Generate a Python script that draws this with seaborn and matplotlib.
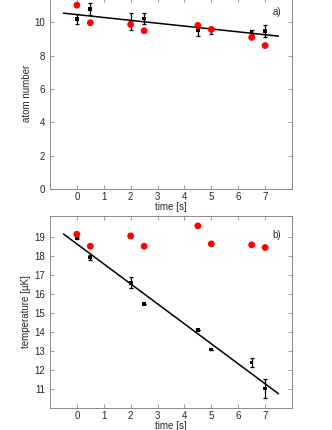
import numpy as np
import pandas as pd
import matplotlib
matplotlib.use("Agg")
import matplotlib.pyplot as plt
import seaborn as sns

time = [0, 0.5, 2, 2.5, 4.5, 5, 6.5, 7]

atoms_meas = [10.2, 10.8, 10.04, 10.24, 9.54, 9.53, 9.42, 9.48]
atoms_err = [0.28, 0.34, 0.5, 0.33, 0.33, 0.2, 0.13, 0.35]
atoms_sim = [11.04, 9.98, 9.88, 9.5, 9.82, 9.58, 9.1, 8.61]

temp_meas = [18.95, 17.91, 16.58, 15.47, 14.09, 13.07, 12.39, 11.02]
temp_err = [0.07, 0.13, 0.29, 0.0, 0.0, 0.0, 0.22, 0.51]
temp_sim = [19.14, 18.51, 19.05, 18.51, 19.58, 18.63, 18.58, 18.44]

# linear fits: (intercept, slope)
atoms_fit = (10.47, -0.1725)
temp_fit = (18.63, -1.051)
fit_t = [-0.5, 7.5]

sns.set_style("ticks")
plt.rcParams["font.family"] = ["Liberation Sans", "DejaVu Sans"]
plt.rcParams["font.size"] = 7

fig = plt.figure(figsize=(3.32, 4.30), dpi=100)
ax1 = fig.add_axes([0.1506, 0.5605, 0.7289, 0.4395 + 0.004])
ax2 = fig.add_axes([0.1506, 0.0512, 0.7289, 0.4465])


def panel(ax, meas, err, sim, fit, label):
    df = pd.DataFrame({"t": time, "meas": meas, "sim": sim})
    fit_df = pd.DataFrame({"t": fit_t, "y": [fit[0] + fit[1] * t for t in fit_t]})
    sns.lineplot(data=fit_df, x="t", y="y", color="black", lw=1.1, ax=ax, zorder=2)
    ax.errorbar(df["t"], df["meas"], yerr=err, fmt="none", ecolor="black",
                elinewidth=0.9, capsize=1.6, capthick=0.9, zorder=3)
    sns.scatterplot(data=df, x="t", y="meas", marker="s", color="black",
                    s=7, edgecolor="none", ax=ax, zorder=4)
    sns.scatterplot(data=df, x="t", y="sim", marker="o", color="#ff0000",
                    s=24, edgecolor="none", ax=ax, zorder=5)
    ax.set_xlim(-1, 8)
    ax.set_xticks(range(0, 8))
    ax.tick_params(direction="in", length=3, width=0.5, color="#777777",
                   top=True, right=True, labelsize=7)
    ax.tick_params(axis="x", pad=2)
    ax.tick_params(axis="y", pad=3.5)
    for s in ax.spines.values():
        s.set_color("#777777")
        s.set_linewidth(0.6)
    ax.set_xlabel("time [s]", fontsize=7, labelpad=0)
    ax.text(0.955, 0.93 if label == "a)" else 0.9, label, transform=ax.transAxes,
            ha="right", va="center", fontsize=7)


panel(ax1, atoms_meas, atoms_err, atoms_sim, atoms_fit, "a)")
ax1.set_ylim(0, 11.45)
ax1.set_yticks(range(0, 12, 2))
ax1.set_ylabel("atom number", fontsize=7, labelpad=2)

panel(ax2, temp_meas, temp_err, temp_sim, temp_fit, "b)")
ax2.set_ylim(10, 20.1)
ax2.set_yticks(range(11, 20))
ax2.set_ylabel("temperature [µK]", fontsize=7, labelpad=2)

fig.savefig("out.png", dpi=100)
